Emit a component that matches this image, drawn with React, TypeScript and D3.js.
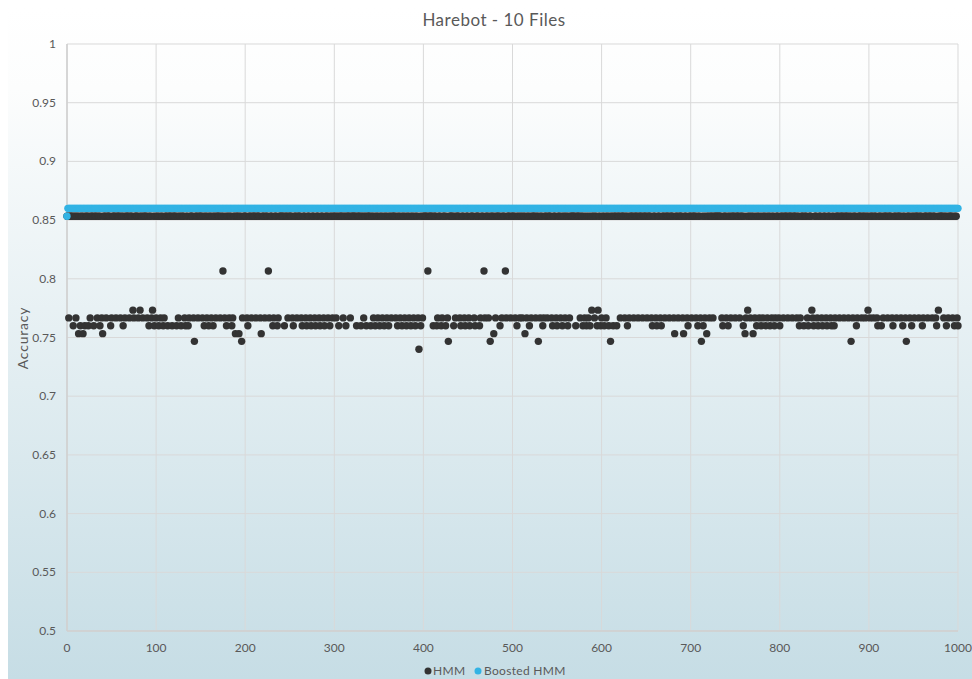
import React from "react";
import * as d3 from "d3";

// ---- data ----
const xTicks = [0, 100, 200, 300, 400, 500, 600, 700, 800, 900, 1000];
const yTicks = [0.5, 0.55, 0.6, 0.65, 0.7, 0.75, 0.8, 0.85, 0.9, 0.95, 1];
const yTickLabels = ["0.5", "0.55", "0.6", "0.65", "0.7", "0.75", "0.8", "0.85", "0.9", "0.95", "1"];

const runCount = 1000; // runs 0..1000
const hmmTypicalAccuracy = 0.8533; // most HMM runs
const boostedFirstAccuracy = 0.8533; // boosted run 0
const boostedAccuracy = 0.86; // boosted runs 1..1000

// HMM runs that fell to lower accuracy levels (x = run index)
const hmmAt08067 = [175, 226, 405, 468, 492];
const hmmAt07733 = [74, 82, 96, 589, 596, 764, 836, 899, 978];
const hmmAt07667 = [
  2, 10, 26, 34, 39, 44, 50, 55, 60, 65, 70, 75, 80, 85, 90, 95, 100, 105, 109, 125,
  132, 137, 142, 147, 152, 157, 162, 167, 172, 177, 182, 186, 197, 202, 207, 212, 217, 222, 227, 232, 237,
  248, 253, 258, 263, 268, 273, 278, 283, 288, 293, 298, 302, 310, 318,
  333, 344, 349, 354, 359, 364, 369, 374, 379, 384, 389, 394, 399, 416, 421, 427,
  436, 441, 446, 451, 457, 464, 469, 473, 481, 488, 493, 498, 503, 508, 511,
  516, 521, 526, 531, 535, 539, 544, 549, 554, 559, 564, 576, 581, 585, 592, 600, 605,
  621, 626, 631, 636, 641, 646, 651, 656, 661, 666, 671, 676, 681, 686, 691, 696, 701, 706, 711, 716, 721, 725,
  735, 740, 745, 750, 755, 762, 767, 772, 777, 781, 786, 791, 795, 799, 804, 809, 814, 819, 823, 831,
  837, 842, 847, 852, 857, 862, 867, 872, 877, 882, 887, 892, 896, 901, 905, 909,
  916, 921, 926, 931, 936, 941, 946, 951, 956, 961, 966, 971, 975, 984, 989, 994, 999,
];
const hmmAt076 = [
  7, 15, 20, 24, 30, 37, 49, 63, 92, 98, 103, 108, 113, 118, 123, 128, 133, 136,
  154, 159, 164, 179, 185, 203, 231, 236, 244, 254, 264, 269, 274, 279, 284, 289, 295, 305, 313,
  325, 330, 336, 341, 346, 351, 356, 361, 371, 376, 381, 386, 391, 397, 411, 415, 420, 425,
  434, 442, 447, 452, 458, 463, 486, 505, 519, 534, 545, 550, 556, 562, 571,
  579, 583, 587, 595, 599, 603, 608, 613, 617, 629, 657, 662, 667, 697, 708, 714,
  736, 742, 759, 774, 779, 784, 789, 794, 800, 822, 827, 832, 838, 843, 848, 853, 858, 861,
  886, 910, 914, 927, 938, 948, 960, 976, 987, 996, 1000,
];
const hmmAt07533 = [13, 18, 40, 189, 193, 218, 479, 514, 682, 692, 718, 761, 770];
const hmmAt07467 = [143, 196, 428, 475, 529, 610, 712, 880, 942];
const hmmAt074 = [395];

const levelGroups: [number, number[]][] = [
  [0.8067, hmmAt08067],
  [0.7733, hmmAt07733],
  [0.7667, hmmAt07667],
  [0.76, hmmAt076],
  [0.7533, hmmAt07533],
  [0.7467, hmmAt07467],
  [0.74, hmmAt074],
];

const lowMap = new Map<number, number>();
levelGroups.forEach(([v, xs]) => xs.forEach((x) => lowMap.set(x, v)));

const runs = d3.range(0, runCount + 1);
const hmmData = runs.map((x) => ({ x, y: lowMap.has(x) ? (lowMap.get(x) as number) : hmmTypicalAccuracy }));
const boostedData = runs.map((x) => ({ x, y: x === 0 ? boostedFirstAccuracy : boostedAccuracy }));

// ---- layout (page coordinates) ----
const PAGE_W = 972;
const PAGE_H = 679;
const left = 67;
const right = 958;
const top = 44;
const bottom = 631;
const FONT = "Lato, 'Open Sans', sans-serif";
const TEXT = "#595959";
const HMM_COLOR = "#333333";
const BOOST_COLOR = "#32b3e4";

export default function App() {
  const x = d3.scaleLinear().domain([0, 1000]).range([left, right]);
  const y = d3.scaleLinear().domain([0.5, 1]).range([bottom, top]);
  const r = 3.7;

  return (
    <svg
      width={PAGE_W}
      height={PAGE_H}
      style={{ position: "fixed", left: 0, top: 0, display: "block" }}
      fontFamily={FONT}
    >
      <defs>
        <linearGradient id="bg" x1="0" y1="0" x2="0" y2="1">
          <stop offset="0%" stopColor="#ffffff" />
          <stop offset="12%" stopColor="#fcfdfd" />
          <stop offset="100%" stopColor="#c6dde5" />
        </linearGradient>
      </defs>
      <rect x={0} y={0} width={PAGE_W} height={PAGE_H} fill="#ffffff" />
      <rect x={8} y={8} width={PAGE_W - 8} height={PAGE_H - 8} fill="url(#bg)" />

      <text x={494} y={26} textAnchor="middle" fontSize={17} letterSpacing={0.5} fill={TEXT}>
        Harebot - 10 Files
      </text>

      {/* grid */}
      {yTicks.map((t) => (
        <line key={"gy" + t} x1={left} x2={right} y1={y(t)} y2={y(t)} stroke="#d9d9d9" strokeWidth={1} />
      ))}
      {xTicks.map((t) => (
        <line key={"gx" + t} x1={x(t)} x2={x(t)} y1={top} y2={bottom} stroke="#d9d9d9" strokeWidth={1} />
      ))}
      <line x1={left} x2={left} y1={top} y2={bottom} stroke="#cfcfcf" strokeWidth={1.5} />
      <line x1={left} x2={right} y1={bottom} y2={bottom} stroke="#cfcfcf" strokeWidth={1.5} />

      {/* tick labels */}
      {yTicks.map((t, i) => (
        <text key={"ly" + t} x={56} y={y(t) + 4} textAnchor="end" fontSize={12} fill={TEXT}>
          {yTickLabels[i]}
        </text>
      ))}
      {xTicks.map((t) => (
        <text key={"lx" + t} x={x(t)} y={652} textAnchor="middle" fontSize={12} fill={TEXT}>
          {String(t)}
        </text>
      ))}

      <text
        transform={`translate(22,338) rotate(-90)`}
        textAnchor="middle"
        dominantBaseline="central"
        fontSize={14}
        letterSpacing={0.8}
        fill={TEXT}
      >
        Accuracy
      </text>

      {/* series */}
      <g fill={HMM_COLOR}>
        {hmmData.map((d) => (
          <circle key={"h" + d.x} cx={x(d.x)} cy={y(d.y)} r={r} />
        ))}
      </g>
      <g fill={BOOST_COLOR}>
        {boostedData.map((d) => (
          <circle key={"b" + d.x} cx={x(d.x)} cy={y(d.y)} r={r} />
        ))}
      </g>

      {/* legend */}
      <circle cx={428} cy={671} r={3.5} fill={HMM_COLOR} />
      <text x={433} y={675} fontSize={12} letterSpacing={0.3} fill={TEXT}>HMM</text>
      <circle cx={478} cy={671} r={3.5} fill={BOOST_COLOR} />
      <text x={484} y={675} fontSize={12} letterSpacing={0.3} fill={TEXT}>Boosted HMM</text>
    </svg>
  );
}
